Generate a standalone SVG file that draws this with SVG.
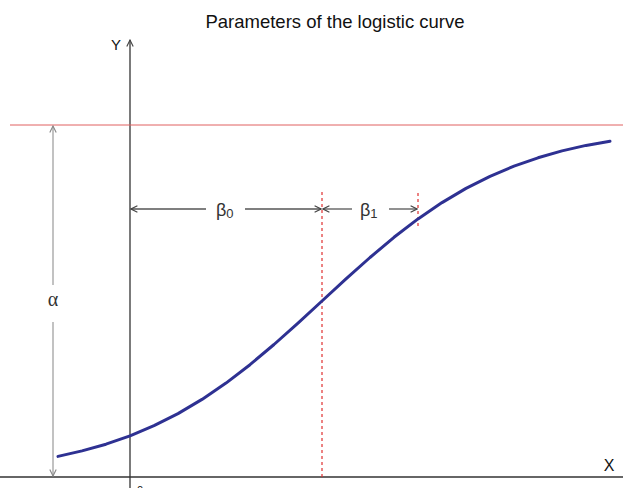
<svg xmlns="http://www.w3.org/2000/svg" width="623" height="488" viewBox="0 0 623 488">
<style>
.t{font-family:"Liberation Sans",Arial,sans-serif;fill:#111}
.b{font-family:"Liberation Sans",Arial,sans-serif;fill:#333}
.g{font-family:"Liberation Serif","Times New Roman",serif;fill:#333}
.ax{stroke:#333;stroke-width:1.3;fill:none}
.dim{stroke:#555;stroke-width:1.3;fill:none}
.red{stroke:#e03030;stroke-width:1.2;fill:none}
</style>
<defs>
<marker id="ah" viewBox="0 0 10 10" refX="9" refY="5" markerWidth="8" markerHeight="8" markerUnits="userSpaceOnUse" orient="auto-start-reverse">
<path d="M1,1 L9,5 L1,9" fill="none" stroke="#444" stroke-width="1.4"/>
</marker>
<marker id="ahl" viewBox="0 0 10 10" refX="9" refY="5" markerWidth="8" markerHeight="8" markerUnits="userSpaceOnUse" orient="auto-start-reverse">
<path d="M1,1 L9,5 L1,9" fill="none" stroke="#888" stroke-width="1.4"/>
</marker>
</defs>
<text class="t" x="335" y="28" font-size="18.5" text-anchor="middle">Parameters of the logistic curve</text>
<g id="axes">
<line class="ax" x1="0" y1="477" x2="623" y2="477"/>
<line class="ax" x1="130" y1="488" x2="130" y2="40" marker-end="url(#ah)"/>
<text class="t" x="116" y="50" font-size="15" text-anchor="middle">Y</text>
<text class="t" x="609" y="471" font-size="16" text-anchor="middle">X</text>
<text class="t" x="140" y="494" font-size="11" text-anchor="middle">0</text>
</g>
<g id="asymptote">
<line x1="10" y1="125" x2="623" y2="125" stroke="#e06060" stroke-width="1"/>
</g>
<g id="connectors">
<line class="red" x1="322" y1="192" x2="322" y2="477" stroke-dasharray="3,3"/>
<line class="red" x1="418" y1="193" x2="418" y2="226" stroke-dasharray="3,3"/>
<line stroke="#999" stroke-width="1.2" x1="53" y1="285" x2="53" y2="126" marker-end="url(#ahl)"/>
<line stroke="#999" stroke-width="1.2" x1="53" y1="322" x2="53" y2="476" marker-end="url(#ahl)"/>
<line class="dim" x1="206" y1="209" x2="131" y2="209" marker-end="url(#ah)"/>
<line class="dim" x1="245" y1="209" x2="321" y2="209" marker-end="url(#ah)"/>
<line class="dim" x1="352" y1="209" x2="323" y2="209" marker-end="url(#ah)"/>
<line class="dim" x1="389" y1="209" x2="417" y2="209" marker-end="url(#ah)"/>
</g>
<g id="labels">
<text class="b" x="216" y="216" font-size="18">β<tspan font-size="13" dy="2">0</tspan></text>
<text class="b" x="360" y="216" font-size="18">β<tspan font-size="13" dy="2">1</tspan></text>
<text class="g" x="53" y="306" font-size="20" text-anchor="middle">α</text>
</g>
<g id="curve">
<path d="M58,456.4 L82,450.9 L106,444.2 L130,435.8 L154,425.7 L178,413.6 L202,399.4 L226,383.1 L250,364.7 L274,344.5 L298,323.1 L322,301 L346,278.9 L370,257.5 L394,237.3 L418,218.9 L442,202.6 L466,188.4 L490,176.3 L514,166.2 L538,157.8 L562,150.9 L586,145.4 L610,141.2" fill="none" stroke="#2e3192" stroke-width="3" stroke-linejoin="round" stroke-linecap="round"/>
</g>
</svg>
